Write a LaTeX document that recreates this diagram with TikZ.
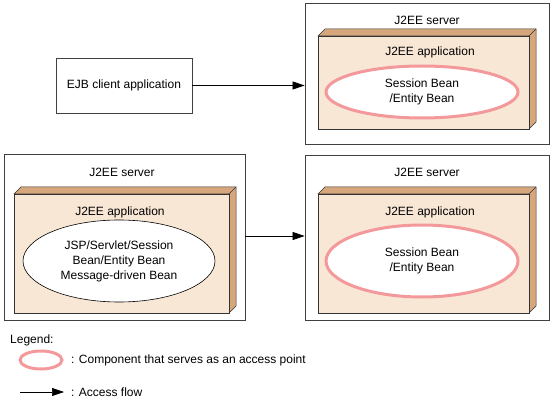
\documentclass[tikz,border=0pt]{standalone}
\usepackage{fontspec}
\setmainfont{Liberation Sans}
\usetikzlibrary{arrows.meta,shapes.geometric}
\definecolor{appfill}{HTML}{F9E7D6}
\definecolor{appside}{HTML}{D6A77C}
\definecolor{pinkline}{HTML}{F4999B}
\definecolor{frame}{HTML}{404040}
\tikzset{
  server/.style={draw=frame, line width=0.8pt, fill=white, minimum width=#1, inner sep=0pt},
  boxnode/.style={draw=frame, line width=0.8pt, fill=white, inner sep=0pt},
  lbl/.style={inner sep=0pt, font=\fontsize{12}{15}\selectfont, text=black},
  front/.style={draw=black!80, line width=0.5pt, fill=appfill},
  plainell/.style={ellipse, draw=black, line width=0.6pt, fill=white, inner sep=0pt, align=center, font=\fontsize{12}{15}\selectfont},
  accell/.style={ellipse, draw=pinkline, line width=3pt, fill=white, inner sep=0pt, align=center, font=\fontsize{12}{15}\selectfont},
  flow/.style={-{Triangle[length=12pt,width=8pt]}, line width=0.7pt, black},
}
\newcommand{\appbox}[5]{% name, x1, y1, x2, y2 (front)
  \fill[appside, draw=black!80, line width=0.5pt] (#2,#3) -- (#2+7,#3-7) -- (#4+7,#3-7) -- (#4+7,#5-7) -- (#4,#5) -- (#4,#3) -- cycle;
  \draw[black!80, line width=0.5pt] (#4,#3) -- (#4+7,#3-7);
  \node[front, inner sep=0pt, minimum width=#4-#2, minimum height=#5-#3, anchor=north west] (#1) at (#2,#3) {};
}
\begin{document}
\begin{tikzpicture}[x=1pt,y=-1pt]
\useasboundingbox (0,0) rectangle (551,403);
% EJB client
\node[boxnode, minimum width=136, minimum height=55, lbl] (client) at (124,85.5) {EJB client application};
% top-right server
\node[server=244, minimum height=141] (s1) at (427,73.5) {};
\node[lbl] (s1l) at (427,20) {J2EE server};
\appbox{a1}{318}{36}{529}{129}
\node[lbl] (a1l) at (430,52) {J2EE application};
\node[accell, minimum width=192, minimum height=52] (e1) at (422,92) {Session Bean\\/Entity Bean};
% bottom-left server
\node[server=241, minimum height=166] (s2) at (124.5,237) {};
\node[lbl] (s2l) at (122,172) {J2EE server};
\appbox{a2}{14}{194}{229}{313}
\node[lbl] (a2l) at (120,212) {J2EE application};
\node[plainell, minimum width=192, minimum height=82] (e2) at (119,261) {JSP/Servlet/Session\\Bean/Entity Bean\\Message-driven Bean};
% bottom-right server
\node[server=244, minimum height=165] (s3) at (427,237.5) {};
\node[lbl] (s3l) at (427,172) {J2EE server};
\appbox{a3}{318}{194}{529}{313}
\node[lbl] (a3l) at (430,212) {J2EE application};
\node[accell, minimum width=192, minimum height=72] (e3) at (422,261) {Session Bean\\/Entity Bean};
% arrows
\draw[flow] (client.east) -- (client.east -| s1.west);
\coordinate (b1) at (245,236);
\draw[flow] (b1) -- (b1 -| s3.west);
% legend
\node[lbl, anchor=west] (leg) at (10,340) {Legend:};
\node[accell, minimum width=42, minimum height=18] (le) at (41,360) {};
\node[lbl, anchor=west] (let) at (71,360) {: Component that serves as an access point};
\coordinate (la0) at (20,392);
\coordinate (la1) at (64,392);
\draw[flow] (la0) -- (la1);
\node[lbl, anchor=west] (lat) at (71,392) {: Access flow};
\end{tikzpicture}
\end{document}
